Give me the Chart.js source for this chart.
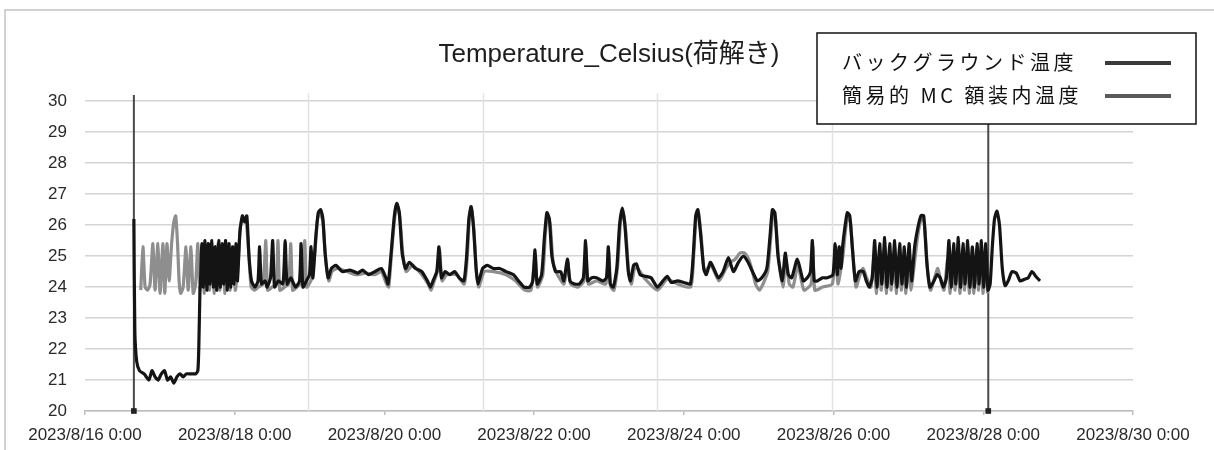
<!DOCTYPE html>
<html>
<head>
<meta charset="utf-8">
<script src="https://cdn.jsdelivr.net/npm/chart.js@4.4.1/dist/chart.umd.min.js"></script>
<style>
  html, body { margin: 0; padding: 0; background: #fff; }
  #wrap { width: 1214px; height: 450px; }
</style>
</head>
<body>
<div id="wrap"><canvas id="chart" width="1214" height="450"></canvas></div>
<script>
// hours since 2023/8/16 0:00, temperature in Celsius
const xTickLabels = ['2023/8/16 0:00', '2023/8/18 0:00', '2023/8/20 0:00', '2023/8/22 0:00',
  '2023/8/24 0:00', '2023/8/26 0:00', '2023/8/28 0:00', '2023/8/30 0:00']
const yTicks = [20, 21, 22, 23, 24, 25, 26, 27, 28, 29, 30]
const seriesLabels = ['バックグラウンド温度', '簡易的 MC 額装内温度']

const backgroundTemp = [
  [15.7, 26.2], [16.0, 22.6], [16.6, 21.6], [17.5, 21.3], [19.0, 21.2], [20.5, 21.0], [21.5, 21.3],
  [22.5, 21.1], [23.5, 21.0], [24.5, 21.2], [25.5, 21.3], [26.5, 21.0], [27.5, 21.1], [28.5, 20.9],
  [29.5, 21.1], [30.5, 21.2], [31.5, 21.1], [32.5, 21.2], [33.5, 21.2], [34.5, 21.2], [35.5, 21.2],
  [36.2, 21.3], [36.5, 22.0], [36.9, 24.0],
  [37.0, 24.0], [37.5, 25.4], [38.0, 24.0], [38.5, 25.5], [39.1, 23.9], [39.6, 25.4], [40.1, 24.1],
  [40.7, 25.5], [41.2, 24.0], [41.8, 25.3], [42.3, 23.9], [42.9, 25.5], [43.4, 24.0], [44.0, 25.4],
  [44.5, 24.1], [45.1, 25.5], [45.6, 23.9], [46.2, 25.4], [46.7, 24.0], [47.3, 25.3], [47.8, 24.1],
  [48.4, 25.4], [48.9, 24.2],
  [49.7, 25.8], [50.5, 26.3], [51.2, 26.1], [51.9, 26.3], [52.6, 25.0], [53.4, 24.2], [54.5, 24.0],
  [55.5, 24.2], [56.0, 25.3], [56.6, 24.1], [57.8, 24.2], [58.4, 24.0], [59.5, 24.3], [60.2, 25.5],
  [60.8, 24.0], [62.0, 24.2], [63.5, 24.1], [64.2, 25.5], [64.8, 24.1], [66.0, 24.3], [67.5, 24.0],
  [68.8, 24.2], [69.3, 25.4], [69.9, 24.0], [71.0, 24.2], [72.0, 24.4], [72.5, 25.3], [73.1, 24.3],
  [74.0, 25.6], [74.8, 26.4], [75.6, 26.5], [76.3, 26.2], [77.0, 25.1], [78.0, 24.3], [79.0, 24.6],
  [80.5, 24.7], [82.5, 24.5], [85.0, 24.55], [87.5, 24.45], [89.0, 24.55], [91.0, 24.4], [93.0, 24.5],
  [95.0, 24.6], [96.5, 24.3], [97.2, 24.1], [98.0, 24.9], [99.2, 26.3], [100.0, 26.7], [100.8, 26.4],
  [101.7, 25.1], [102.8, 24.6], [104.0, 24.8], [106.0, 24.6], [108.0, 24.5], [109.8, 24.2], [110.8, 24.0],
  [111.6, 24.2], [112.8, 24.5], [113.5, 25.3], [114.3, 24.3], [115.5, 24.5], [117.0, 24.4], [118.5, 24.5],
  [120.0, 24.3], [121.5, 24.2], [122.3, 24.9], [123.1, 26.2], [123.8, 26.6], [124.6, 25.9], [125.4, 24.6],
  [126.0, 24.1], [127.5, 24.6], [129.0, 24.7], [131.0, 24.6], [133.0, 24.6], [135.0, 24.5], [137.4, 24.4],
  [139.0, 24.2], [140.8, 24.0], [142.6, 24.0], [143.6, 24.2], [144.3, 25.2], [145.0, 24.1], [146.4, 24.4],
  [147.3, 25.6], [148.1, 26.4], [148.9, 26.2], [149.7, 25.0], [150.9, 24.5], [152.5, 24.5], [153.5, 24.2],
  [154.7, 24.9], [155.5, 24.2], [157.0, 24.1], [158.5, 24.1], [159.8, 24.3], [160.5, 25.5], [161.2, 24.2],
  [162.5, 24.3], [164.0, 24.3], [166.0, 24.2], [167.2, 24.3], [167.8, 25.3], [168.4, 24.1], [169.4, 24.0],
  [170.5, 24.6], [171.4, 26.0], [172.3, 26.55], [173.1, 26.0], [174.2, 24.5], [174.9, 24.2], [175.9, 24.7],
  [176.8, 24.75], [178.0, 24.4], [179.7, 24.35], [181.5, 24.3], [183.5, 24.0], [185.3, 24.2], [186.7, 24.35],
  [188.0, 24.15], [190.0, 24.2], [192.0, 24.15], [194.1, 24.1], [195.0, 25.0], [195.8, 26.3], [196.5, 26.5],
  [197.3, 25.8], [198.4, 24.6], [199.2, 24.4], [200.5, 24.8], [201.6, 24.6], [203.1, 24.3], [204.6, 24.5],
  [206.3, 24.95], [207.9, 24.5], [209.5, 24.8], [211.1, 25.0], [212.6, 24.8], [214.0, 24.5], [215.6, 24.2],
  [217.0, 24.3], [218.6, 24.6], [219.6, 25.6], [220.4, 26.5], [221.2, 26.4], [222.2, 25.0], [223.6, 24.2],
  [224.5, 25.1], [225.5, 24.4], [226.6, 24.3], [228.4, 24.9], [230.3, 24.2], [231.6, 24.3], [232.6, 24.5],
  [233.2, 25.5], [233.8, 24.2], [234.8, 24.2], [236.5, 24.3], [238.0, 24.3], [239.8, 24.4], [240.5, 25.4],
  [241.2, 24.4], [241.8, 25.3], [242.4, 24.6], [242.9, 25.3], [243.6, 25.9], [244.4, 26.4], [245.2, 26.3],
  [246.0, 25.3], [247.0, 24.2], [248.2, 24.5], [249.5, 24.5], [250.5, 24.2], [251.5, 24.0], [252.4, 24.3],
  [253.2, 25.5], [253.9, 24.0], [254.8, 25.4], [255.5, 24.1], [256.4, 25.6], [257.1, 24.0], [258.0, 25.4],
  [258.7, 24.1], [259.6, 25.5], [260.3, 24.0], [261.2, 25.4], [261.9, 24.1], [262.7, 25.3], [263.4, 24.0],
  [264.2, 25.4], [265.0, 24.2], [266.0, 25.3], [267.0, 25.9], [268.0, 26.3], [268.9, 26.3], [269.9, 24.8],
  [270.9, 24.0], [272.2, 24.2], [273.2, 24.4], [274.2, 24.3], [275.2, 24.0], [276.2, 24.3], [277.0, 25.5],
  [277.7, 24.0], [278.5, 25.4], [279.2, 24.1], [280.0, 25.6], [280.7, 24.0], [281.5, 25.4], [282.2, 24.1],
  [283.0, 25.5], [283.7, 24.0], [284.5, 25.3], [285.2, 24.0], [286.0, 25.4], [286.7, 24.1], [287.4, 25.5],
  [288.1, 24.0], [288.8, 25.4], [289.5, 23.9], [290.2, 24.1], [290.9, 25.3], [291.6, 26.2], [292.4, 26.45],
  [293.2, 26.0], [294.1, 24.6], [295.0, 24.05], [296.0, 24.2], [297.2, 24.5], [298.6, 24.45], [299.8, 24.2],
  [301.2, 24.25], [302.4, 24.3], [303.6, 24.5], [304.8, 24.35], [306.2, 24.2]
]

const frameTemp = [
  [17.9, 23.9], [18.6, 25.3], [19.3, 24.0], [20.1, 23.9], [20.9, 24.1], [21.8, 25.4], [22.5, 23.9],
  [23.4, 25.4], [24.1, 23.8], [25.0, 25.4], [25.6, 23.8], [26.3, 25.4], [27.0, 24.2], [27.8, 25.4],
  [28.5, 26.1], [29.1, 26.3], [29.7, 25.4], [30.2, 24.2], [30.7, 23.8], [31.5, 24.0], [32.4, 25.3],
  [33.1, 23.9], [34.0, 25.3], [34.7, 23.8], [35.5, 24.1], [36.2, 25.4], [36.9, 23.9], [37.7, 25.3],
  [38.3, 23.8], [39.3, 25.4], [39.9, 23.9], [40.9, 25.3], [41.5, 23.8], [42.6, 25.4], [43.2, 23.9],
  [44.3, 25.3], [44.9, 23.8], [45.9, 25.4], [46.5, 23.9], [47.6, 25.3], [48.2, 23.9], [49.0, 24.6],
  [49.9, 26.0], [50.8, 26.2], [51.6, 26.2], [52.4, 25.3], [53.3, 24.0], [54.5, 23.9], [55.6, 24.0],
  [57.1, 24.1], [58.0, 25.5], [58.6, 23.9], [60.0, 24.0], [61.3, 24.1], [61.9, 25.5], [62.5, 23.9],
  [64.0, 24.0], [65.3, 24.1], [66.0, 25.4], [66.6, 23.9], [68.0, 24.0], [69.8, 24.2], [70.5, 25.5],
  [71.1, 24.0], [72.8, 24.3], [73.8, 25.2], [74.6, 26.2], [75.4, 26.4], [76.3, 26.1], [77.2, 24.9],
  [78.2, 24.2], [79.2, 24.5], [81.0, 24.6], [84.0, 24.5], [87.0, 24.4], [90.0, 24.45], [93.0, 24.4],
  [95.0, 24.5], [96.7, 24.1], [97.4, 24.0], [98.3, 25.1], [99.4, 26.3], [100.2, 26.6], [101.0, 26.2],
  [102.0, 25.0], [103.0, 24.5], [105.0, 24.7], [108.0, 24.4], [110.0, 24.1], [111.0, 23.9], [112.0, 24.2],
  [113.0, 24.5], [113.7, 25.2], [114.5, 24.2], [116.0, 24.4], [119.0, 24.4], [121.6, 24.1], [122.6, 25.0],
  [123.3, 26.3], [124.0, 26.5], [124.8, 25.7], [125.6, 24.4], [126.3, 24.0], [128.0, 24.5], [131.0, 24.5],
  [135.0, 24.4], [138.0, 24.2], [141.0, 23.9], [143.0, 23.9], [144.3, 25.0], [145.1, 24.0], [146.8, 24.4],
  [147.6, 25.7], [148.4, 26.3], [149.2, 26.0], [150.1, 24.8], [151.5, 24.4], [153.6, 24.1], [154.8, 24.8],
  [155.7, 24.1], [158.0, 24.0], [160.0, 24.2], [160.6, 25.3], [161.4, 24.1], [164.0, 24.2], [167.0, 24.1],
  [167.9, 25.2], [168.6, 24.0], [169.6, 23.9], [170.8, 24.7], [171.7, 26.1], [172.5, 26.4], [173.4, 25.8],
  [174.4, 24.4], [175.2, 24.1], [176.2, 24.6], [177.2, 24.6], [179.7, 24.25], [183.5, 23.9], [186.7, 24.25],
  [190.0, 24.1], [194.2, 24.0], [195.2, 25.1], [196.0, 26.3], [196.7, 26.4], [197.6, 25.6], [198.6, 24.5],
  [200.7, 24.7], [203.3, 24.2], [205.5, 24.6], [207.0, 24.8], [208.5, 24.9], [210.0, 25.1], [211.5, 25.1],
  [212.8, 24.9], [214.0, 24.5], [215.0, 24.1], [216.2, 23.9], [217.4, 24.1], [218.9, 24.5], [219.8, 25.5],
  [220.6, 26.4], [221.4, 26.2], [222.4, 24.9], [223.8, 24.0], [224.7, 24.9], [225.8, 24.1], [227.0, 24.0],
  [228.6, 24.7], [230.5, 23.9], [232.8, 24.1], [233.4, 25.3], [234.0, 23.9], [236.5, 24.0], [239.6, 24.1],
  [240.6, 25.2], [241.4, 24.1], [243.0, 25.0], [243.8, 25.8], [244.6, 26.3], [245.4, 26.1], [246.2, 25.1],
  [247.2, 24.0], [248.5, 24.4], [249.5, 24.6], [250.6, 24.3], [252.0, 24.0], [253.0, 25.0], [253.7, 23.8],
  [254.6, 24.9], [255.3, 23.9], [256.2, 25.1], [256.9, 23.8], [257.8, 25.0], [258.5, 23.9], [259.4, 25.1],
  [260.1, 23.8], [261.0, 25.0], [261.7, 23.9], [262.5, 24.9], [263.2, 23.8], [264.0, 25.0], [264.8, 23.9],
  [266.2, 25.0], [267.2, 25.8], [268.2, 26.2], [269.1, 26.1], [270.1, 24.6], [271.1, 23.9], [272.4, 24.3],
  [273.4, 24.6], [274.4, 24.2], [275.4, 23.9], [276.6, 24.9], [277.4, 23.8], [278.3, 25.0], [279.0, 23.9],
  [279.8, 25.1], [280.5, 23.8], [281.3, 24.9], [282.0, 23.9], [282.8, 25.0], [283.5, 23.8], [284.3, 24.9],
  [285.0, 23.8], [285.8, 25.0], [286.5, 23.9], [287.2, 25.1], [287.9, 23.8], [288.6, 24.9], [289.4, 23.8]
]

// unpacking start / end markers and the faint extra vertical guides
const eventHours = [15.7, 289.6]
const eventTop = 30.2
const guideHours = [71.5, 127.5, 183.5, 239.5]

const toPoints = (rows) => rows.map(r => ({ x: r[0], y: r[1] }))

const eventPoints = []
for (const h of eventHours) {
  eventPoints.push({ x: h, y: 20 }, { x: h, y: eventTop }, { x: h, y: null })
}

const sansFont = "'Liberation Sans', Arial, 'Noto Sans CJK JP', sans-serif"

const decorPlugin = {
  id: 'decor',
  beforeDraw (chart) {
    const ctx = chart.ctx
    ctx.save()
    ctx.fillStyle = '#ffffff'
    ctx.fillRect(0, 0, chart.width, chart.height)
    // outer frame (top and left edges only visible)
    ctx.strokeStyle = '#c4c4c4'
    ctx.lineWidth = 1.5
    ctx.beginPath()
    ctx.moveTo(5, chart.height)
    ctx.lineTo(5, 10)
    ctx.lineTo(chart.width, 10)
    ctx.stroke()
    ctx.restore()
  },
  beforeDatasetsDraw (chart) {
    const ctx = chart.ctx
    const area = chart.chartArea
    const x = chart.scales.x
    ctx.save()
    ctx.strokeStyle = '#e2e2e2'
    ctx.lineWidth = 1.5
    for (const h of guideHours) {
      const px = Math.round(x.getPixelForValue(h)) + 0.5
      ctx.beginPath()
      ctx.moveTo(px, area.top - 8)
      ctx.lineTo(px, area.bottom)
      ctx.stroke()
    }
    ctx.restore()
  },
  afterDraw (chart) {
    const ctx = chart.ctx
    const box = { left: 817, top: 33, width: 379, height: 91 }
    ctx.save()
    ctx.fillStyle = '#ffffff'
    ctx.fillRect(box.left, box.top, box.width, box.height)
    ctx.strokeStyle = '#111111'
    ctx.lineWidth = 1.5
    ctx.strokeRect(box.left, box.top, box.width, box.height)
    ctx.font = "400 20px 'Noto Sans CJK JP', sans-serif"
    ctx.letterSpacing = '3.5px'
    ctx.textBaseline = 'middle'
    ctx.fillStyle = '#111111'
    const rowY = [62, 95]
    chart.data.datasets.slice(0, 2).forEach((ds, i) => {
      ctx.fillText(ds.label, 842, rowY[i])
      ctx.strokeStyle = i === 0 ? '#3a3a3a' : '#5a5a5a'
      ctx.lineWidth = 4
      ctx.beginPath()
      ctx.moveTo(1105, rowY[i] + 1)
      ctx.lineTo(1171, rowY[i] + 1)
      ctx.stroke()
    })
    ctx.restore()
  }
}

new Chart(document.getElementById('chart'), { // eslint-disable-line
  type: 'line',
  data: {
    datasets: [
      {
        label: seriesLabels[0],
        data: toPoints(backgroundTemp),
        borderColor: '#141414',
        borderWidth: 3.2,
        pointRadius: 0,
        tension: 0.2
      },
      {
        label: seriesLabels[1],
        data: toPoints(frameTemp),
        borderColor: '#8e8e8e',
        borderWidth: 3.2,
        pointRadius: 0,
        tension: 0.2
      },
      {
        label: 'events',
        data: eventPoints,
        borderColor: '#4a4a4a',
        borderWidth: 2,
        spanGaps: false,
        clip: false,
        pointStyle: 'rect',
        pointRadius: [4, 1.5, 0, 4, 0, 0],
        pointBackgroundColor: '#222222',
        pointBorderWidth: 0
      }
    ]
  },
  options: {
    responsive: false,
    animation: false,
    layout: { padding: { left: 30, right: 81, top: 0, bottom: 6 } },
    plugins: {
      legend: { display: false },
      tooltip: { enabled: false },
      title: {
        display: true,
        text: 'Temperature_Celsius(荷解き)',
        fullSize: false,
        color: '#1e1e1e',
        font: { family: sansFont, size: 26, weight: 'normal' },
        padding: { top: 39, bottom: 31 }
      }
    },
    scales: {
      x: {
        type: 'linear',
        min: 0,
        max: 336,
        afterFit: (scale) => { scale.height = 33 },
        ticks: {
          stepSize: 48,
          color: '#2a2a2a',
          padding: 12,
          maxRotation: 0,
          font: { family: sansFont, size: 17, lineHeight: 1 },
          callback: (v) => xTickLabels[v / 48]
        },
        grid: { drawOnChartArea: false, drawTicks: true, tickLength: 4, color: '#bdbdbd', lineWidth: 1.5 },
        border: { display: true, color: '#bdbdbd', width: 1.5 }
      },
      y: {
        min: 20,
        max: 30,
        afterBuildTicks: (axis) => { axis.ticks = yTicks.map(v => ({ value: v })) },
        ticks: {
          color: '#2a2a2a',
          padding: 18,
          font: { family: sansFont, size: 17 }
        },
        grid: { color: '#d4d4d4', lineWidth: 1.5, drawTicks: false },
        border: { display: false }
      }
    }
  },
  plugins: [decorPlugin]
})
</script>
</body>
</html>
